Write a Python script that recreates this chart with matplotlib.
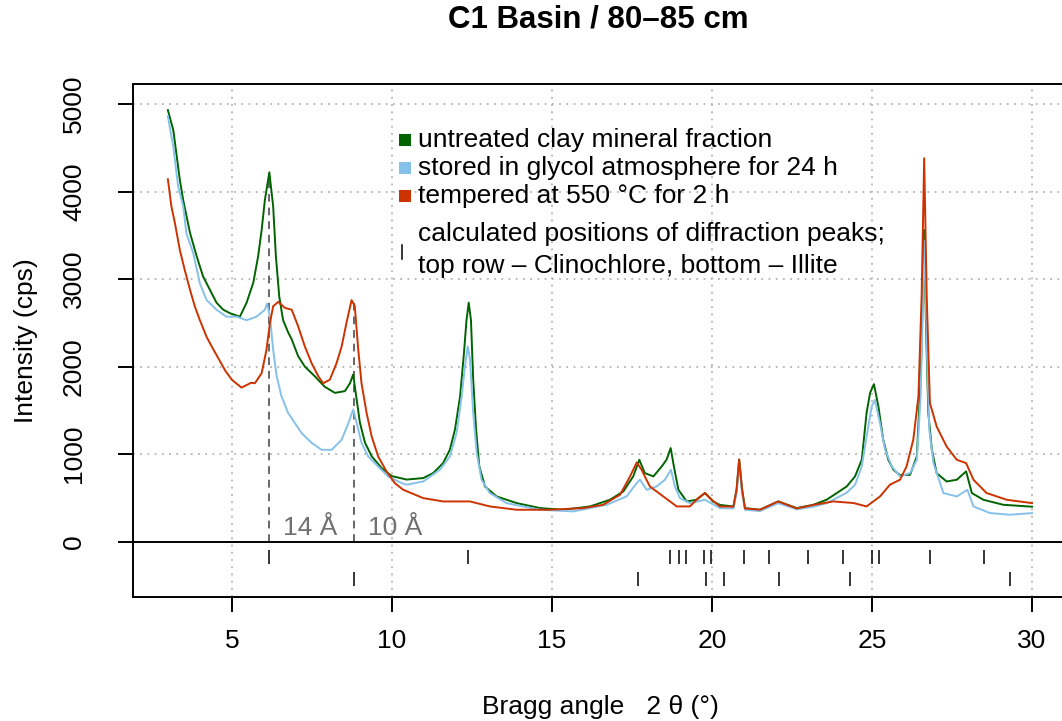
import matplotlib
matplotlib.use("Agg")
import matplotlib.pyplot as plt
from matplotlib.patches import Rectangle
from matplotlib.lines import Line2D

plt.rcParams['font.family'] = ['Liberation Sans', 'DejaVu Sans']

# untreated clay mineral fraction
green_x = [3.00, 3.17, 3.375, 3.48, 3.69, 3.90, 4.10, 4.31, 4.52, 4.73, 4.94, 5.25, 5.46, 5.67, 5.82,
           5.93, 6.03, 6.17, 6.29, 6.375, 6.48, 6.60, 6.76, 6.87, 7.07, 7.28, 7.59, 7.90, 8.22, 8.53,
           8.69, 8.79, 8.90, 9.00, 9.16, 9.37, 9.68, 9.99, 10.46, 10.98, 11.29, 11.60, 11.81, 11.97,
           12.13, 12.25, 12.33, 12.40, 12.47, 12.54, 12.63, 12.73, 12.91, 13.27, 13.90, 14.63, 15.35,
           16.19, 16.81, 17.23, 17.54, 17.73, 17.90, 18.17, 18.43, 18.58, 18.71, 18.81, 18.95, 19.21,
           19.52, 19.78, 20.04, 20.25, 20.67, 20.77, 20.85, 20.94, 21.03, 21.50, 22.07, 22.65, 23.17,
           23.58, 23.90, 24.21, 24.47, 24.68, 24.83, 24.94, 25.06, 25.20, 25.35, 25.51, 25.67, 25.875,
           26.19, 26.40, 26.52, 26.60, 26.63, 26.69, 26.76, 26.87, 27.02, 27.33, 27.65, 27.94, 28.12,
           28.48, 29.10, 30.00]
green_y = [4930, 4700, 4130, 3900, 3530, 3260, 3030, 2880, 2730, 2650, 2610, 2570, 2730, 2960, 3260,
           3560, 3900, 4220, 3830, 3260, 2800, 2530, 2390, 2310, 2120, 2000, 1890, 1770, 1700, 1720,
           1810, 1910, 1620, 1360, 1130, 975, 840, 750, 710, 727, 784, 898, 1050, 1280,
           1660, 2150, 2530, 2730, 2530, 1850, 1280, 860, 630, 517, 441, 384, 365,
           403, 479, 574, 746, 936, 784, 746, 860, 936, 1070, 860, 594, 460,
           479, 556, 460, 420, 403, 594, 936, 594, 384, 365, 460, 384, 422,
           479, 556, 631, 746, 936, 1470, 1700, 1800, 1545, 1165, 936, 822, 760,
           765, 974, 1850, 2990, 3560, 2420, 1470, 1050, 784, 688, 708, 803, 556,
           479, 422, 400]

# stored in glycol atmosphere for 24 h
blue_x = [3.00, 3.17, 3.32, 3.48, 3.58, 3.79, 4.00, 4.21, 4.52, 4.83, 5.15, 5.46, 5.77, 6.03, 6.10,
          6.19, 6.29, 6.40, 6.55, 6.76, 6.97, 7.18, 7.49, 7.80, 8.12, 8.43, 8.64, 8.79, 8.90, 9.05,
          9.26, 9.57, 9.88, 10.30, 10.46, 10.98, 11.50, 11.81, 12.02, 12.18, 12.28, 12.37, 12.44,
          12.54, 12.65, 12.80, 13.06, 13.58, 14.63, 15.67, 16.71, 17.33, 17.65, 17.75, 17.96, 18.27,
          18.53, 18.72, 18.84, 19.00, 19.31, 19.78, 20.25, 20.67, 20.77, 20.85, 20.94, 21.03, 21.50,
          22.07, 22.65, 23.17, 23.58, 23.90, 24.21, 24.47, 24.68, 24.83, 24.99, 25.09, 25.25, 25.41,
          25.62, 25.875, 26.19, 26.40, 26.52, 26.60, 26.65, 26.71, 26.79, 26.92, 27.23, 27.65, 27.98,
          28.17, 28.69, 29.31, 30.00]
blue_y = [4860, 4510, 4060, 3830, 3520, 3300, 2950, 2760, 2650, 2570, 2570, 2530, 2570, 2650, 2720,
          2570, 2190, 1890, 1660, 1470, 1355, 1240, 1130, 1050, 1050, 1165, 1355, 1510, 1355, 1130,
          974, 860, 746, 670, 651, 688, 822, 974, 1240, 1660, 2000, 2230, 2080,
          1470, 1010, 708, 556, 441, 365, 346, 422, 517, 670, 708, 594, 631,
          708, 822, 631, 498, 441, 479, 384, 380, 560, 900, 560, 365, 350,
          440, 370, 400, 440, 500, 560, 650, 860, 1200, 1545, 1620, 1355, 1050,
          860, 746, 784, 936, 1660, 2880, 3440, 2230, 1280, 898, 556, 517, 594,
          403, 327, 308, 327]

# tempered at 550 °C for 2 h
red_x = [3.00, 3.11, 3.22, 3.375, 3.53, 3.69, 3.84, 4.00, 4.21, 4.37, 4.60, 4.80, 5.00, 5.30, 5.60,
         5.72, 5.93, 6.08, 6.19, 6.29, 6.45, 6.66, 6.87, 7.07, 7.28, 7.49, 7.70, 7.85, 8.06, 8.27,
         8.43, 8.58, 8.74, 8.84, 8.95, 9.05, 9.21, 9.37, 9.57, 9.83, 10.09, 10.35, 10.98, 11.60,
         12.44, 13.06, 13.90, 14.94, 15.98, 16.60, 17.13, 17.44, 17.65, 17.80, 18.06, 18.48, 18.90,
         19.31, 19.57, 19.78, 19.99, 20.25, 20.67, 20.77, 20.85, 20.94, 21.03, 21.50, 22.07, 22.65,
         23.17, 23.79, 24.42, 24.83, 25.25, 25.56, 25.875, 26.08, 26.29, 26.45, 26.55, 26.63, 26.71,
         26.81, 27.02, 27.33, 27.65, 27.94, 28.17, 28.58, 29.21, 30.00]
red_y = [4140, 3830, 3640, 3330, 3100, 2880, 2690, 2530, 2340, 2230, 2080, 1950, 1850, 1760, 1815,
         1811, 1925, 2190, 2500, 2690, 2740, 2670, 2650, 2460, 2230, 2040, 1890, 1810, 1850, 2040,
         2230, 2500, 2760, 2690, 2190, 1810, 1470, 1200, 974, 803, 670, 594, 498, 460,
         460, 403, 365, 365, 384, 422, 537, 746, 906, 822, 631, 517, 403,
         403, 498, 556, 479, 403, 400, 600, 940, 600, 380, 365, 460, 380,
         420, 460, 442, 403, 517, 651, 708, 860, 1165, 1660, 2800, 4380, 2800,
         1583, 1316, 1088, 936, 898, 708, 556, 479, 441]

# calculated peak positions (2 theta)
clinochlore_pos = [6.16, 12.39, 18.68, 18.98, 19.18, 19.76, 19.98, 20.99, 21.78, 23.01, 24.09,
                   25.01, 25.21, 26.81, 28.50]
illite_pos = [8.80, 17.70, 19.80, 20.37, 22.08, 24.30, 29.30]

# basal reflections marked with dashed lines
basal_pos = [6.16, 8.80]
basal_top = [4200, 2760]
basal_label = ["14 Å", "10 Å"]

series_labels = ["untreated clay mineral fraction",
                 "stored in glycol atmosphere for 24 h",
                 "tempered at 550 °C for 2 h"]
colors = ["#006400", "#85C1E9", "#CC3300"]

W, H = 1062, 721
fig = plt.figure(figsize=(W / 100, H / 100), dpi=100)
ax = fig.add_axes([133.3 / W, 1 - 596.7 / H, (1066.6 - 133.3) / W, (596.7 - 84) / H])

ax.set_xlim(1.92, 31.08)
ax.set_ylim(-628, 5228)
ax.set_xticks([5, 10, 15, 20, 25, 30])
ax.set_yticks([0, 1000, 2000, 3000, 4000, 5000])
ax.grid(True, color="#b4b4b4", linestyle=(0, (1, 3)), linewidth=1.3)
ax.set_axisbelow(True)

for s in ax.spines.values():
    s.set_linewidth(1.4)
ax.tick_params(direction="out", length=11, width=1.4, labelsize=19)
ax.tick_params(axis="x", pad=12.5)
ax.tick_params(axis="y", pad=23)
for lab in ax.get_yticklabels():
    lab.set_rotation(90)
    lab.set_va("center")

ax.axhline(0, color="black", lw=1.4, zorder=3)

for p, t, lbl in zip(basal_pos, basal_top, basal_label):
    ax.vlines(p, 0, t, colors="#666666", linestyles=(0, (4, 3)), lw=1.4, zorder=1)
    ax.text(p + 0.45, 25, lbl, color="#707070", fontsize=19, ha="left", va="bottom")

ax.plot(green_x, green_y, color=colors[0], lw=1.4, zorder=2)
ax.plot(blue_x, blue_y, color=colors[1], lw=1.4, zorder=2)
ax.plot(red_x, red_y, color=colors[2], lw=1.4, zorder=2)

ax.vlines(clinochlore_pos, -260, -100, colors="black", lw=1.1)
ax.vlines(illite_pos, -510, -350, colors="black", lw=1.1)

ax.set_ylabel("Intensity (cps)", fontsize=19, labelpad=17)
ax.set_xlabel("Bragg angle   2 θ (°)", fontsize=19, labelpad=30)
fig.text(598 / W, 1 - 20 / H, "C1 Basin / 80–85 cm", fontsize=22.5, fontweight="bold",
         ha="center", va="center")

# legend drawn by hand
rows_y = [140, 168, 196]
for yy, col, lbl in zip(rows_y, colors, series_labels):
    fig.add_artist(Rectangle(((405.3 - 6) / W, 1 - (yy + 6) / H), 12 / W, 12 / H,
                             transform=fig.transFigure, color=col, lw=0))
    fig.text(418 / W, 1 - yy / H, lbl, fontsize=19, ha="left", va="center")
fig.add_artist(Line2D([402 / W, 402 / W], [1 - 245 / H, 1 - 259 / H],
                      transform=fig.transFigure, color="black", lw=1.1))
fig.text(418 / W, 1 - 234 / H, "calculated positions of diffraction peaks;",
         fontsize=19, ha="left", va="center")
fig.text(418 / W, 1 - 266 / H, "top row – Clinochlore, bottom – Illite",
         fontsize=19, ha="left", va="center")

fig.savefig("out.png", dpi=100)
